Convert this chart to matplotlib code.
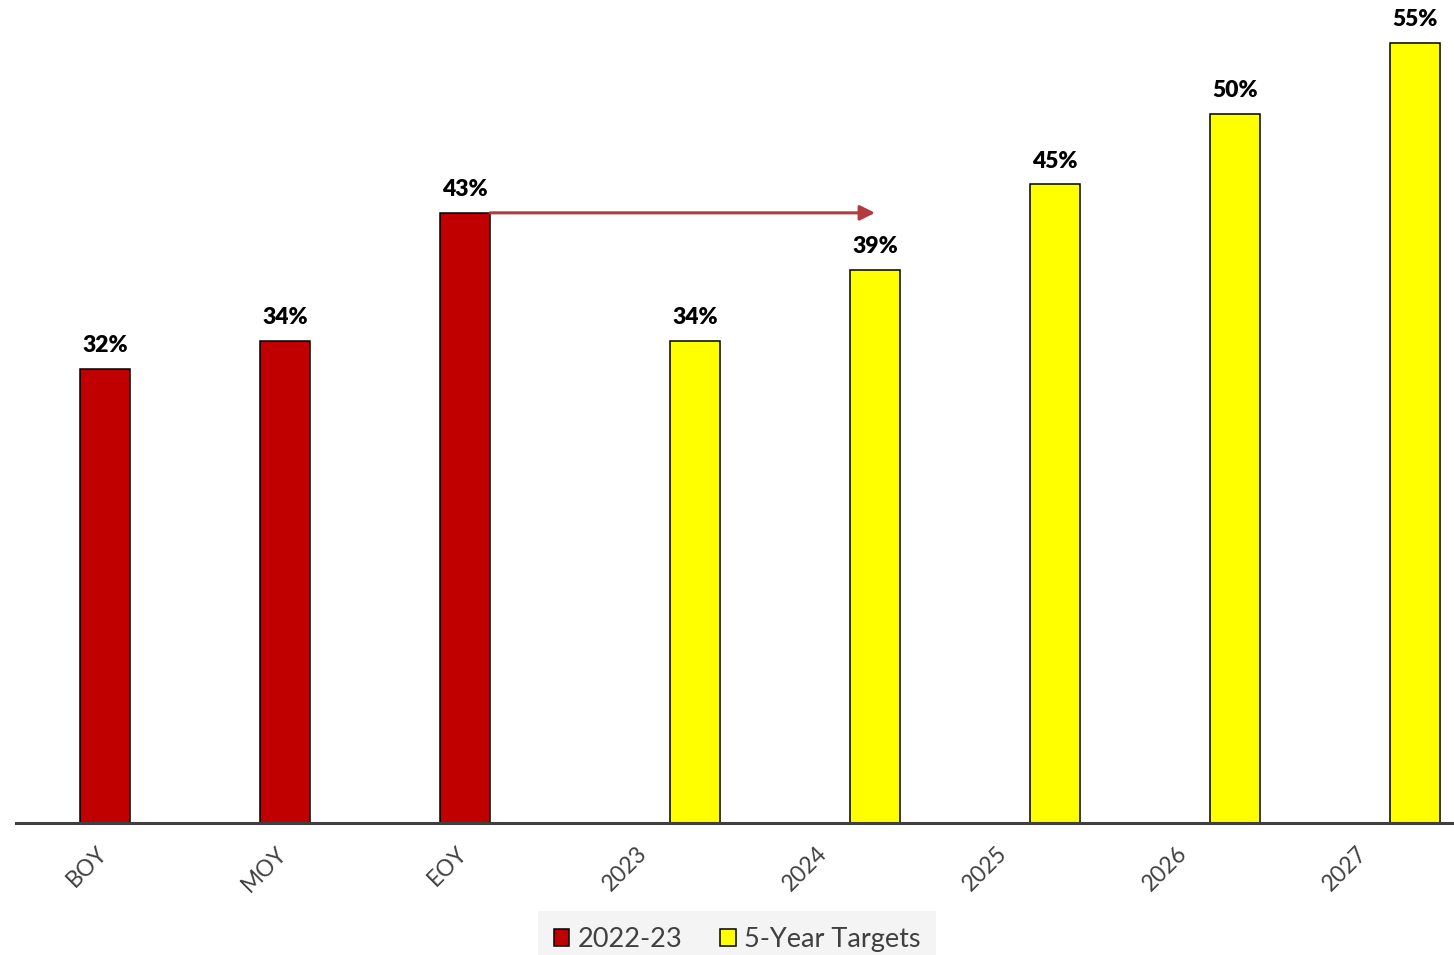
import matplotlib.pyplot as plt
import matplotlib.transforms as mtransforms
from matplotlib.patches import Patch

plt.rcParams['font.family'] = ['Lato', 'DejaVu Sans']

# categories and values
categories = ['BOY', 'MOY', 'EOY', '2023', '2024', '2025', '2026', '2027']
actual_cats = ['BOY', 'MOY', 'EOY']
actual_vals = [0.32, 0.34, 0.43]
target_cats = ['2023', '2024', '2025', '2026', '2027']
target_vals = [0.34, 0.39, 0.45, 0.50, 0.55]

red = '#C00000'
yellow = '#FFFF00'
grey = '#404040'

fig = plt.figure(figsize=(14.54, 9.55), dpi=100)
ax = fig.add_axes([16 / 1454, 132 / 955, 1 - 16 / 1454, 823 / 955])

w = 50 / 180
xa = [categories.index(c) - w / 2 for c in actual_cats]
xt = [categories.index(c) + w / 2 for c in target_cats]

ax.bar(xa, actual_vals, width=w, color=red, edgecolor='black', linewidth=1.1, label='2022-23', zorder=2)
ax.bar(xt, target_vals, width=w, color=yellow, edgecolor='black', linewidth=1.1, label='5-Year Targets', zorder=2)

for x, v in list(zip(xa, actual_vals)) + list(zip(xt, target_vals)):
    ax.annotate('%d%%' % round(v * 100), (x, v), xytext=(0, 9), textcoords='offset points',
                ha='center', va='bottom', fontsize=16.5, fontweight='heavy', color='black')

# arrow from end of year to the 2024 target
eoy = categories.index('EOY')
ax.annotate('', xy=(xt[target_cats.index('2024')], actual_vals[eoy]), xytext=(eoy, actual_vals[eoy]),
            arrowprops=dict(arrowstyle='-|>,head_length=0.9,head_width=0.45', color='#B33B3F',
                            lw=2.2, shrinkA=0, shrinkB=0), zorder=3)

ax.set_xlim(-114 / 180, (1454 - 130) / 180)
ax.set_ylim(0, 0.58)
ax.set_yticks([])
for s in ['left', 'right', 'top']:
    ax.spines[s].set_visible(False)
ax.spines['bottom'].set_color(grey)
ax.spines['bottom'].set_linewidth(2.2)
ax.spines['bottom'].set_zorder(3)

ax.set_xticks(range(len(categories)))
ax.set_xticklabels(categories, rotation=45, ha='right', va='top', fontsize=16.5, color=grey)
ax.tick_params(axis='x', length=0, pad=14)
offset = mtransforms.ScaledTranslation(-19 / 100, 0, fig.dpi_scale_trans)
for lbl in ax.get_xticklabels():
    lbl.set_transform(lbl.get_transform() + offset)

handles = [Patch(facecolor=red, edgecolor='black', linewidth=1.1),
           Patch(facecolor=yellow, edgecolor='black', linewidth=1.1)]
leg = fig.legend(handles, ['2022-23', '5-Year Targets'], loc='lower center',
                 bbox_to_anchor=(737 / 1454, -0.014), ncol=2, frameon=True, fancybox=False,
                 fontsize=19.5, handlelength=0.57, handleheight=0.57, handletextpad=0.3,
                 columnspacing=1.4, borderpad=0.6, borderaxespad=0)
leg.get_frame().set_facecolor('#F2F2F2')
leg.get_frame().set_edgecolor('none')
for t in leg.get_texts():
    t.set_color(grey)

fig.savefig('out.png', dpi=100)
